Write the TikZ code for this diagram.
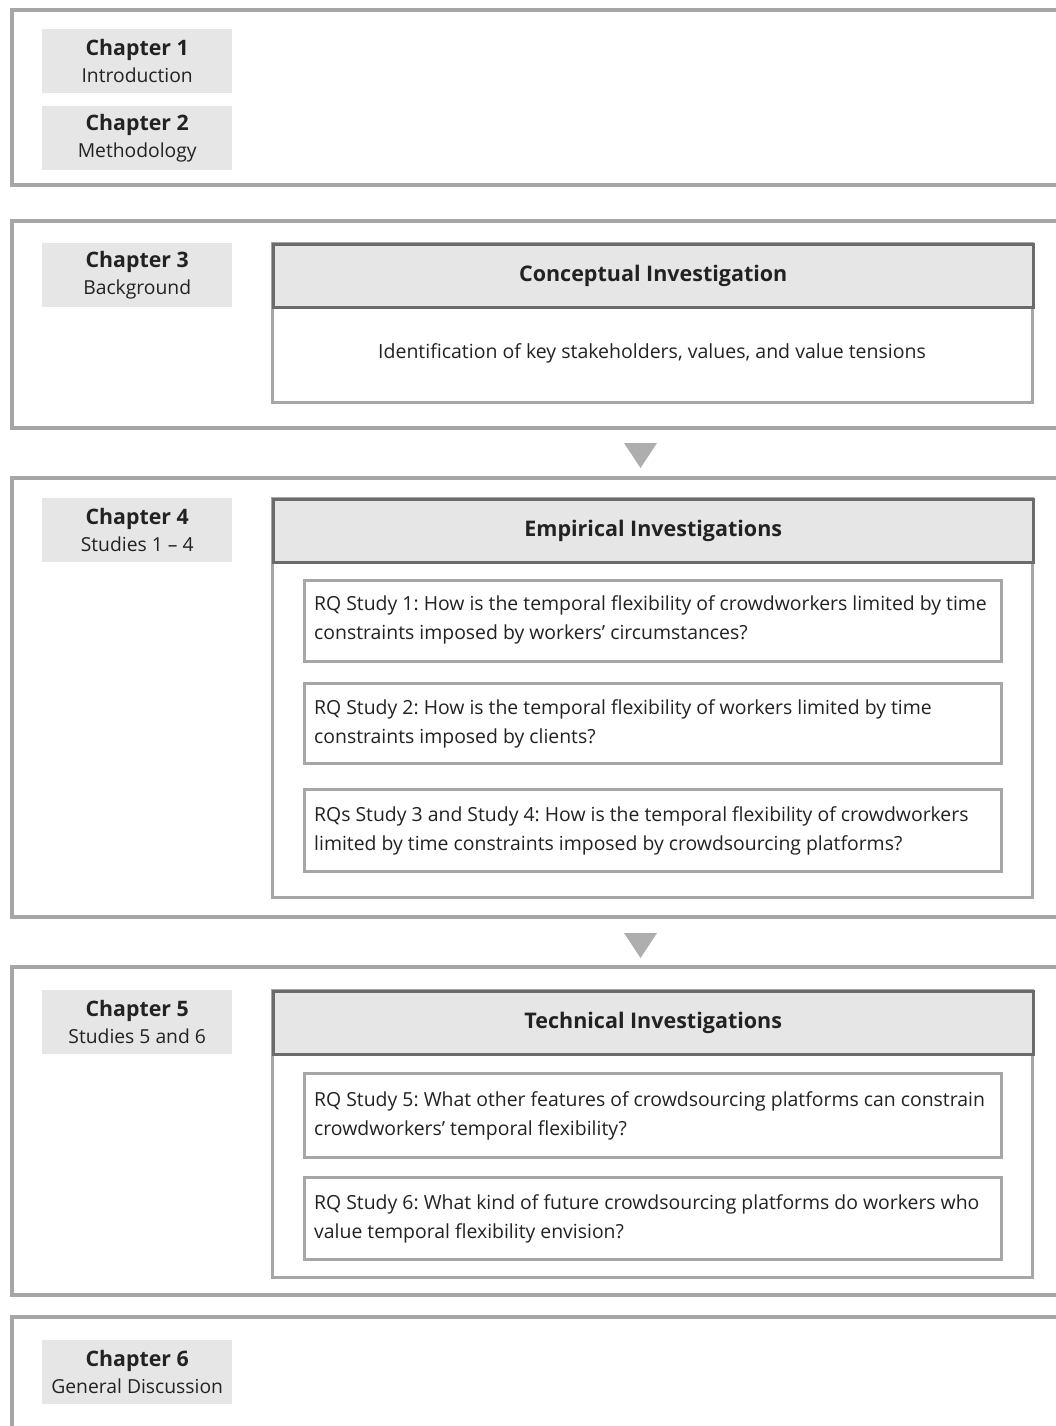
\documentclass[tikz,border=0pt]{standalone}
\usepackage{fontspec}
\setmainfont{Open Sans}
\frenchspacing
\definecolor{panelgray}{HTML}{A6A6A6}
\definecolor{chapfill}{HTML}{E6E6E6}
\definecolor{headline}{HTML}{6B6B6B}
\definecolor{boxline}{HTML}{A6A6A6}
\definecolor{txt}{HTML}{222222}
\definecolor{trigray}{HTML}{AEAEAE}
\begin{document}
\begin{tikzpicture}[x=1pt,y=-1pt,
  panel/.style={draw=panelgray, line width=4pt},
  chap/.style={fill=chapfill, minimum width=190pt, minimum height=64pt, inner sep=0pt, align=center, text=txt, anchor=north west, font=\fontsize{19.3}{27}\selectfont},
  headbox/.style={fill=chapfill, draw=headline, line width=2.5pt, minimum width=760pt, minimum height=63pt, inner sep=0pt, anchor=north west, text=txt, font=\fontsize{21.5}{24}\selectfont\bfseries},
  bodybox/.style={draw=boxline, line width=3pt},
  rqbox/.style={draw=boxline, line width=3pt, minimum width=697pt, inner sep=0pt, anchor=north west},
  rqtext/.style={text=txt, anchor=west, align=left, inner sep=0pt, font=\fontsize{19.4}{29}\selectfont},
  tri/.style={fill=trigray}
]
\useasboundingbox (0,0) rectangle (1056,1426);
\fill[white] (0,0) rectangle (1056,1426);

% panels
\draw[panel] (1062,10) -| (11.5,185) -- (1062,185);
\draw[panel] (1062,221) -| (11.5,428) -- (1062,428);
\draw[panel] (1062,478) -| (11.5,917) -- (1062,917);
\draw[panel] (1062,967) -| (11.5,1295) -- (1062,1295);
\draw[panel] (1062,1317) -| (11.5,1432);

% chapter boxes
\node[chap] (c1) at (42,29) {\textbf{\fontsize{21.3}{27}\selectfont Chapter 1}\\Introduction};
\node[chap] (c2) at (42,106) {\textbf{\fontsize{21.3}{27}\selectfont Chapter 2}\\Methodology};
\node[chap] (c3) at (42,243) {\textbf{\fontsize{21.3}{27}\selectfont Chapter 3}\\Background};
\node[chap] (c4) at (42,498) {\textbf{\fontsize{21.3}{27}\selectfont Chapter 4}\\Studies 1 -- 4};
\node[chap] (c5) at (42,990) {\textbf{\fontsize{21.3}{27}\selectfont Chapter 5}\\Studies 5 and 6};
\node[chap] (c6) at (42,1340) {\textbf{\fontsize{21.3}{27}\selectfont Chapter 6}\\General Discussion};

% Conceptual
\draw[bodybox] (272,243) rectangle (1032,402);
\node[headbox] (h1) at (272,243) {Conceptual Investigation};
\node[text=txt, font=\fontsize{19.5}{24}\selectfont] (b1) at (652,353) {Identification of key stakeholders, values, and value tensions};

\fill[tri] (624,443) -- (657,443) -- (640.5,468) -- cycle;

% Empirical
\draw[bodybox] (272,498) rectangle (1032,897);
\node[headbox] (h2) at (272,498) {Empirical Investigations};
\node[rqbox, minimum height=81pt] (r1) at (303,579) {};
\node[rqtext] (t1) at ([xshift=11pt,yshift=1pt]r1.west) {RQ Study 1: How is the temporal flexibility of crowdworkers limited by time\\constraints imposed by workers’ circumstances?};
\node[rqbox, minimum height=80pt] (r2) at (303,682) {};
\node[rqtext] (t2) at ([xshift=11pt,yshift=0pt]r2.west) {RQ Study 2: How is the temporal flexibility of workers limited by time\\constraints imposed by clients?};
\node[rqbox, minimum height=82pt] (r3) at (303,788) {};
\node[rqtext] (t3) at ([xshift=11pt,yshift=0pt]r3.west) {RQs Study 3 and Study 4: How is the temporal flexibility of crowdworkers\\limited by time constraints imposed by crowdsourcing platforms?};

\fill[tri] (624,933) -- (657,933) -- (640.5,958) -- cycle;

% Technical
\draw[bodybox] (272,990) rectangle (1032,1277);
\node[headbox] (h3) at (272,990) {Technical Investigations};
\node[rqbox, minimum height=84pt] (r5) at (303,1072) {};
\node[rqtext] (t5) at ([xshift=11pt,yshift=0pt]r5.west) {RQ Study 5: What other features of crowdsourcing platforms can constrain\\crowdworkers’ temporal flexibility?};
\node[rqbox, minimum height=82pt] (r6) at (303,1176) {};
\node[rqtext] (t6) at ([xshift=11pt,yshift=0pt]r6.west) {RQ Study 6: What kind of future crowdsourcing platforms do workers who\\value temporal flexibility envision?};
\end{tikzpicture}
\end{document}
